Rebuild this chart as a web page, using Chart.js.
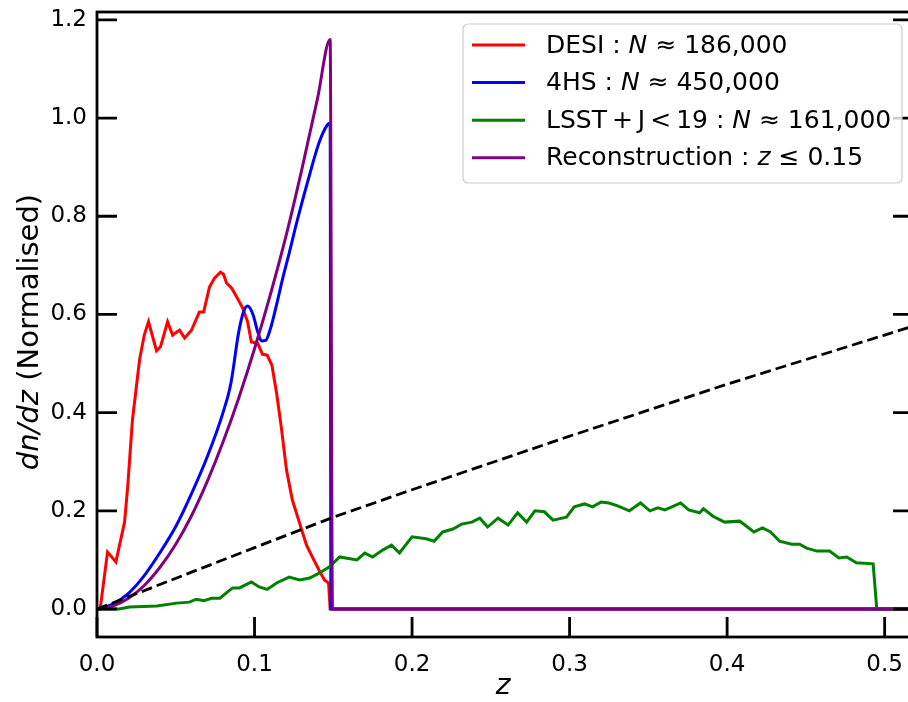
<!DOCTYPE html>
<html>
<head>
<meta charset="utf-8">
<script src="https://cdn.jsdelivr.net/npm/chart.js@4.4.1/dist/chart.umd.min.js"></script>
<style>
  html, body { margin: 0; padding: 0; background: #fff; overflow: hidden; }
  #wrap { position: relative; width: 916px; height: 702px; }
</style>
</head>
<body>
<div id="wrap"><canvas id="c"></canvas></div>
<script>
// ---- data (z, normalised dn/dz) ----
const zRed = [0, 0.002, 0.0067, 0.012, 0.0175, 0.0195, 0.0225, 0.027, 0.030, 0.0327, 0.0378, 0.0403, 0.0448, 0.048, 0.0524, 0.0556, 0.060, 0.065, 0.0677, 0.0714, 0.0746, 0.0784, 0.0803, 0.0822, 0.0854, 0.0886, 0.0925, 0.0956, 0.098, 0.102, 0.105, 0.108, 0.111, 0.114, 0.117, 0.1203, 0.124, 0.1286, 0.133, 0.137, 0.141, 0.1444, 0.147, 0.148, 0.518];
const vRed = [0, 0, 0.116, 0.096, 0.177, 0.25, 0.385, 0.507, 0.558, 0.585, 0.526, 0.534, 0.585, 0.558, 0.568, 0.552, 0.568, 0.605, 0.605, 0.656, 0.674, 0.686, 0.682, 0.664, 0.654, 0.636, 0.613, 0.585, 0.544, 0.541, 0.519, 0.517, 0.497, 0.44, 0.37, 0.283, 0.222, 0.175, 0.13, 0.104, 0.079, 0.059, 0.053, 0, 0];

const zBlue = [0, 0.01, 0.02, 0.03, 0.04, 0.05, 0.06, 0.07, 0.08, 0.085, 0.09, 0.093, 0.0955, 0.099, 0.102, 0.1045, 0.107, 0.11, 0.114, 0.118, 0.122, 0.127, 0.135, 0.141, 0.146, 0.148, 0.1485, 0.518];
const vBlue = [0, 0.01, 0.032, 0.068, 0.115, 0.168, 0.235, 0.31, 0.40, 0.46, 0.565, 0.605, 0.617, 0.60, 0.565, 0.546, 0.547, 0.57, 0.62, 0.675, 0.725, 0.79, 0.885, 0.95, 0.985, 0.99, 0, 0];

const zGreen = [0, 0.014, 0.0206, 0.038, 0.0505, 0.0587, 0.063, 0.068, 0.0727, 0.078, 0.086, 0.0905, 0.098, 0.103, 0.108, 0.114, 0.122, 0.1286, 0.135, 0.141, 0.1476, 0.154, 0.165, 0.17, 0.175, 0.1813, 0.187, 0.192, 0.2, 0.209, 0.214, 0.2194, 0.226, 0.2314, 0.238, 0.243, 0.248, 0.2546, 0.261, 0.267, 0.2727, 0.278, 0.284, 0.2895, 0.298, 0.303, 0.3095, 0.3146, 0.32, 0.325, 0.3305, 0.338, 0.345, 0.351, 0.356, 0.3605, 0.365, 0.3705, 0.3756, 0.3825, 0.385, 0.391, 0.3984, 0.408, 0.417, 0.4225, 0.4276, 0.4333, 0.441, 0.446, 0.4505, 0.457, 0.465, 0.471, 0.476, 0.482, 0.4927, 0.495, 0.518];
const vGreen = [0, 0, 0.004, 0.006, 0.012, 0.014, 0.02, 0.017, 0.022, 0.022, 0.043, 0.043, 0.055, 0.045, 0.04, 0.053, 0.065, 0.059, 0.063, 0.073, 0.086, 0.106, 0.10, 0.114, 0.106, 0.12, 0.13, 0.114, 0.147, 0.143, 0.138, 0.157, 0.163, 0.173, 0.177, 0.185, 0.167, 0.185, 0.171, 0.196, 0.177, 0.2, 0.198, 0.181, 0.187, 0.208, 0.214, 0.208, 0.218, 0.216, 0.21, 0.2, 0.216, 0.2, 0.206, 0.202, 0.208, 0.216, 0.202, 0.196, 0.204, 0.189, 0.177, 0.179, 0.157, 0.165, 0.157, 0.138, 0.132, 0.132, 0.124, 0.118, 0.118, 0.104, 0.106, 0.094, 0.092, 0, 0];

const zPurple = [0, 0.01, 0.02, 0.03, 0.04, 0.05, 0.06, 0.07, 0.08, 0.09, 0.1, 0.11, 0.12, 0.13, 0.14, 0.148, 0.1495, 0.518];
const vPurple = [0, 0.006, 0.022, 0.048, 0.085, 0.132, 0.19, 0.26, 0.34, 0.43, 0.53, 0.64, 0.76, 0.895, 1.04, 1.16, 0, 0];

const zDash = [0, 0.1, 0.15, 0.2, 0.3, 0.4, 0.5, 0.518];
const vDash = [0, 0.125, 0.187, 0.243, 0.352, 0.458, 0.558, 0.576];

const xTicks = [0, 0.1, 0.2, 0.3, 0.4, 0.5];
const yTicks = [0, 0.2, 0.4, 0.6, 0.8, 1.0, 1.2];

// legend labels as (text, italic) runs, mimicking the mathtext
const legendLabels = [
  [['DESI : ', false], ['N', true], [' \u2248 186,000', false]],
  [['4HS : ', false], ['N', true], [' \u2248 450,000', false]],
  [['LSST\u2009+\u2009J\u2009<\u200919 : ', false], ['N', true], [' \u2248 161,000', false]],
  [['Reconstruction : ', false], ['z', true], [' \u2264 0.15', false]]
];
const legendColors = ['#ff0000', '#0000ff', '#008000', '#800080'];

const FONT = '"DejaVu Sans"';
const TICK_LEN = 20;

function pts(zs, vs) { return zs.map((z, i) => ({ x: z, y: vs[i] })); }

function drawRuns(ctx, runs, x, y, size) {
  runs.forEach(([t, it]) => {
    ctx.font = `${it ? 'italic ' : ''}${size}px ${FONT}`;
    ctx.fillText(t, x, y);
    x += ctx.measureText(t).width;
  });
}
function runsWidth(ctx, runs, size) {
  return runs.reduce((w, [t, it]) => {
    ctx.font = `${it ? 'italic ' : ''}${size}px ${FONT}`;
    return w + ctx.measureText(t).width;
  }, 0);
}

function roundRect(ctx, x, y, w, h, r) {
  ctx.beginPath();
  ctx.moveTo(x + r, y);
  ctx.arcTo(x + w, y, x + w, y + h, r);
  ctx.arcTo(x + w, y + h, x, y + h, r);
  ctx.arcTo(x, y + h, x, y, r);
  ctx.arcTo(x, y, x + w, y, r);
  ctx.closePath();
}

const decor = {
  id: 'decor',
  afterDatasetsDraw(chart) {
    const { ctx, chartArea: a, scales: { x, y } } = chart;
    ctx.save();
    ctx.strokeStyle = '#000';
    ctx.lineWidth = 2.8;
    ctx.beginPath();
    xTicks.forEach(v => {
      const px = x.getPixelForValue(v);
      ctx.moveTo(px, a.bottom); ctx.lineTo(px, a.bottom - TICK_LEN);
    });
    yTicks.forEach(v => {
      const py = y.getPixelForValue(v);
      ctx.moveTo(a.left, py); ctx.lineTo(a.left + TICK_LEN, py);
      ctx.moveTo(a.right, py); ctx.lineTo(a.right - TICK_LEN, py);
    });
    ctx.stroke();
    ctx.strokeRect(a.left, a.top, a.right - a.left, a.bottom - a.top);

    // legend box (upper right)
    const bx = 463, by = 24, bw = 439, bh = 159;
    roundRect(ctx, bx, by, bw, bh, 5);
    ctx.fillStyle = 'rgba(255,255,255,0.8)';
    ctx.fill();
    ctx.strokeStyle = '#cccccc';
    ctx.lineWidth = 1.2;
    ctx.stroke();
    ctx.textBaseline = 'middle';
    ctx.fillStyle = '#000';
    legendLabels.forEach((runs, i) => {
      const ry = 45 + i * 37.6;
      ctx.strokeStyle = legendColors[i];
      ctx.lineWidth = 3;
      ctx.beginPath();
      ctx.moveTo(472, ry); ctx.lineTo(525, ry);
      ctx.stroke();
      drawRuns(ctx, runs, 546, ry + 1, 25);
    });
    ctx.restore();
  },
  afterDraw(chart) {
    const { ctx } = chart;
    ctx.save();
    ctx.fillStyle = '#000';
    ctx.textBaseline = 'middle';
    // x title
    ctx.font = `italic 28px ${FONT}`;
    ctx.textAlign = 'center';
    ctx.fillText('z', 503, 687);
    // y title
    const runs = [['dn/dz', true], [' (Normalised)', false]];
    ctx.textAlign = 'left';
    const w = runsWidth(ctx, runs, 29);
    ctx.translate(30, 332);
    ctx.rotate(-Math.PI / 2);
    drawRuns(ctx, runs, -w / 2, 0, 29);
    ctx.restore();
  }
};

const line = (data, color, order, extra) => Object.assign({
  data, borderColor: color, backgroundColor: color, borderWidth: 3,
  pointRadius: 0, fill: false, tension: 0, order
}, extra || {});

const noPad = s => { s.paddingTop = 0; s.paddingBottom = 0; s.paddingLeft = 0; s.paddingRight = 0; };

new Chart(document.getElementById('c'), {
  type: 'line',
  data: {
    datasets: [
      line(pts(zDash, vDash), '#000000', 0, { borderDash: [11, 5], borderWidth: 2.8 }),
      line(pts(zPurple, vPurple), '#800080', 1, { cubicInterpolationMode: 'monotone' }),
      line(pts(zGreen, vGreen), '#008000', 2),
      line(pts(zBlue, vBlue), '#0000ff', 3, { cubicInterpolationMode: 'monotone' }),
      line(pts(zRed, vRed), '#ff0000', 4)
    ]
  },
  options: {
    animation: false,
    responsive: true,
    maintainAspectRatio: false,
    devicePixelRatio: 1,
    layout: { padding: { left: 0, top: 12, right: 3, bottom: 0 } },
    plugins: { legend: { display: false }, tooltip: { enabled: false } },
    scales: {
      x: {
        type: 'linear', min: 0, max: 0.518,
        afterBuildTicks: s => { s.ticks = xTicks.map(v => ({ value: v })); },
        afterFit: s => { s.height = 65; noPad(s); },
        grid: { display: false, drawTicks: false },
        border: { display: false },
        ticks: {
          color: '#000', autoSkip: false, maxRotation: 0, padding: 14,
          font: { family: 'DejaVu Sans', size: 23 },
          callback: v => v.toFixed(1)
        }
      },
      y: {
        type: 'linear', min: -0.057, max: 1.216,
        afterBuildTicks: s => { s.ticks = yTicks.map(v => ({ value: v })); },
        afterFit: s => { s.width = 97; noPad(s); },
        grid: { display: false, drawTicks: false },
        border: { display: false },
        ticks: {
          color: '#000', autoSkip: false, padding: 10,
          font: { family: 'DejaVu Sans', size: 23 },
          callback: v => v.toFixed(1)
        }
      }
    }
  },
  plugins: [decor]
});
</script>
</body>
</html>
